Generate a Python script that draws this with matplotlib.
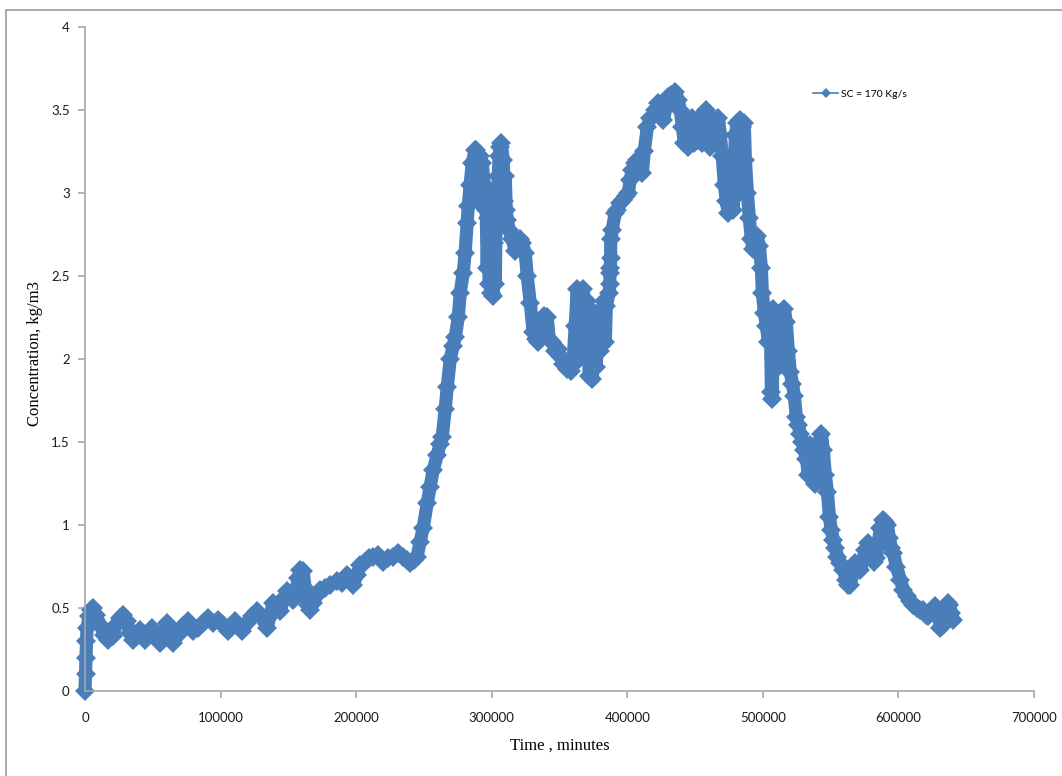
import matplotlib
matplotlib.use("Agg")
import matplotlib.pyplot as plt
from matplotlib.lines import Line2D
from matplotlib.patches import Rectangle

# Time (minutes) and concentration (kg/m3) of the SC = 170 Kg/s series
time_min = [
    0, 400, 700, 1100, 1500, 3000, 4400, 5900, 8100, 11100, 14000, 17000,
    20700, 22900, 25800, 28000, 31000, 33200, 35400, 38400, 40600, 44300,
    46500, 49400, 52400, 55400, 58300, 60500, 62700, 64900, 68600, 72300,
    76000, 79700, 83400, 87100, 90800, 94500, 98200, 101800, 105500, 108500,
    110700, 113700, 115900, 119600, 123200, 126900, 130600, 134300, 136500,
    138700, 141700, 143900, 146900, 149100, 151300, 153500, 155700, 157200,
    158700, 160900, 162400, 164600, 166000, 168300, 171200, 173400, 177100,
    180800, 186000, 189700, 193400, 195600, 197800, 200700, 203000, 206600,
    209600, 212500, 216200, 219900, 223600, 227300, 231000, 234700, 237600,
    239900, 242800, 245000, 247200, 249400, 252400, 254600, 256800, 259800,
    262000, 263500, 265700, 267200, 269400, 271600, 273100, 275300, 276800,
    279000, 280400, 281900, 282700, 284100, 285600, 287800, 288600, 290000,
    291500, 293000, 294500, 295900, 296700, 297400, 298200, 298900, 299600,
    300400, 301100, 301800, 302600, 303300, 304100, 304800, 305500, 306300,
    307000, 308500, 309200, 310000, 310700, 311400, 312900, 315100, 317300,
    319600, 321000, 322500, 324700, 326200, 328400, 330600, 332800, 334300,
    336500, 338700, 341000, 342400, 344600, 346900, 349100, 350600, 352800,
    355700, 358700, 360100, 361600, 363100, 364600, 366000, 367500, 369000,
    370500, 372000, 372700, 374200, 375600, 377100, 378600, 380100, 381500,
    383000, 383800, 384500, 386700, 387100, 387200, 387500, 387700, 387800,
    388900, 391100, 392600, 394800, 397000, 399300, 400700, 402200, 403700,
    405900, 407400, 409600, 411100, 412500, 414800, 417000, 418400, 420700,
    422900, 425100, 426600, 428800, 430300, 432500, 435400, 437600, 439100,
    440600, 442100, 443500, 445000, 446500, 448000, 449400, 450900, 452400,
    453900, 455300, 456800, 458300, 459800, 461300, 462700, 464200, 465700,
    467200, 468600, 470100, 471600, 473100, 474500, 476000, 477500, 478200,
    479700, 481200, 482700, 483400, 484900, 486300, 487100, 488600, 490000,
    491500, 493000, 494500, 495900, 497400, 498900, 499600, 501100, 502600,
    504100, 505500, 506300, 507000, 507700, 508500, 510000, 511400, 512900,
    514400, 515900, 517300, 518800, 520300, 521800, 523200, 524700, 526200,
    527700, 529100, 530600, 532100, 533600, 535100, 535800, 537300, 538700,
    540200, 541700, 543200, 544600, 546100, 547600, 549100, 550500, 552000,
    553500, 555000, 557200, 559400, 561600, 563100, 564600, 566000, 568300,
    569700, 572000, 573400, 575600, 577900, 580100, 582300, 583800, 585200,
    586700, 588900, 590400, 591900, 593400, 594800, 596300, 598500, 601500,
    603700, 606600, 608900, 611100, 614000, 616200, 618400, 620700, 622100,
    624300, 627300, 629500, 631000, 632500, 633900, 636200, 637600, 639100,
    640600,
]

concentration = [
    0.00, 0.10, 0.20, 0.30, 0.38, 0.45, 0.49, 0.50, 0.46, 0.40, 0.34, 0.31,
    0.33, 0.40, 0.44, 0.46, 0.42, 0.35, 0.31, 0.33, 0.37, 0.31,
    0.34, 0.38, 0.34, 0.29, 0.35, 0.41, 0.36, 0.29, 0.34, 0.39,
    0.42, 0.36, 0.38, 0.41, 0.44, 0.41, 0.43, 0.40, 0.36, 0.40,
    0.42, 0.39, 0.36, 0.41, 0.45, 0.48, 0.44, 0.38, 0.45,
    0.53, 0.50, 0.48, 0.56, 0.60, 0.58, 0.55, 0.60, 0.68,
    0.73, 0.72, 0.62, 0.52, 0.49, 0.53, 0.58, 0.61, 0.62,
    0.64, 0.66, 0.65, 0.70, 0.68, 0.64, 0.70, 0.76, 0.78,
    0.80, 0.81, 0.82, 0.78, 0.80, 0.81, 0.83, 0.81, 0.79,
    0.77, 0.79, 0.81, 0.90, 0.98, 1.13, 1.23, 1.33, 1.42,
    1.49, 1.53, 1.70, 1.83, 2.00, 2.08, 2.13, 2.25, 2.40,
    2.52, 2.64, 2.82, 2.92, 3.05, 3.18, 3.26, 3.26, 2.95,
    3.22, 3.18, 3.05, 2.90, 2.55, 2.85, 2.45, 2.70, 2.40,
    2.60, 2.38, 2.70, 2.45, 2.85, 2.95, 3.10, 3.22, 3.28,
    3.30, 3.20, 2.95, 3.10, 2.90, 2.84, 2.78, 2.72, 2.65,
    2.70, 2.72, 2.70, 2.64, 2.50, 2.34, 2.16, 2.12, 2.10,
    2.20, 2.26, 2.25, 2.12, 2.10, 2.05, 2.06, 2.02, 1.97,
    1.94, 1.93, 2.00, 2.20, 2.42, 2.00, 2.38, 2.42, 2.10,
    2.35, 1.90, 2.30, 1.88, 2.25, 1.95, 2.28, 2.05, 2.30,
    2.35, 2.10, 2.32, 2.40, 2.45, 2.52, 2.55, 2.61, 2.72,
    2.78, 2.88, 2.90, 2.94, 2.96, 2.98, 3.00, 3.08, 3.14,
    3.18, 3.20, 3.18, 3.12, 3.25, 3.40, 3.45, 3.46, 3.50,
    3.54, 3.50, 3.44, 3.52, 3.58, 3.59, 3.61, 3.56, 3.50,
    3.40, 3.30, 3.45, 3.28, 3.40, 3.45, 3.30, 3.35, 3.32,
    3.40, 3.30, 3.48, 3.50, 3.38, 3.28, 3.40, 3.32, 3.42,
    3.45, 3.35, 3.22, 3.05, 2.95, 2.88, 2.92, 3.00, 2.90,
    3.35, 3.42, 3.00, 3.44, 3.40, 3.42, 3.20, 3.00, 2.85,
    2.72, 2.66, 2.70, 2.74, 2.68, 2.55, 2.40, 2.28, 2.20,
    2.10, 2.25, 1.80, 1.76, 2.30, 2.00, 2.25, 1.95, 2.28,
    2.25, 2.30, 2.22, 2.05, 1.92, 1.85, 1.78, 1.65, 1.60,
    1.55, 1.50, 1.45, 1.40, 1.30, 1.48, 1.32, 1.42, 1.25,
    1.35, 1.50, 1.55, 1.45, 1.30, 1.20, 1.05, 0.97, 0.91,
    0.86, 0.81, 0.77, 0.73, 0.67, 0.64, 0.64, 0.70, 0.77,
    0.74, 0.73, 0.78, 0.85, 0.89, 0.84, 0.78, 0.80, 0.90,
    0.98, 1.03, 1.02, 1.00, 0.92, 0.86, 0.83, 0.75, 0.67,
    0.61, 0.57, 0.54, 0.52, 0.50, 0.49, 0.49, 0.46, 0.45,
    0.47, 0.51, 0.45, 0.38, 0.39, 0.45, 0.53, 0.52, 0.47,
    0.43,
]

x_ticks = [0, 100000, 200000, 300000, 400000, 500000, 600000, 700000]
y_ticks = [0, 0.5, 1, 1.5, 2, 2.5, 3, 3.5, 4]
y_tick_labels = ["0", "0.5", "1", "1.5", "2", "2.5", "3", "3.5", "4"]
series_label = "SC = 170 Kg/s"

W, H = 1062, 776
fig = plt.figure(figsize=(W / 100, H / 100), dpi=100)
fig.patch.set_facecolor("white")

# chart-area frame (runs off the right and bottom edges)
fig.patches.append(Rectangle((6 / W, -0.05), 1.1, 1 - 10 / H + 0.05,
                             transform=fig.transFigure, fill=False,
                             edgecolor="#9a9a9a", linewidth=1.2))

left, right = 85 / W, 1034 / W
bottom, top = (H - 691) / H, (H - 27) / H
ax = fig.add_axes([left, bottom, right - left, top - bottom])

blue = "#4a7ebb"
ax.plot(time_min, concentration, color=blue, linewidth=9.5,
        marker="D", markersize=10, markeredgewidth=0,
        solid_joinstyle="round", solid_capstyle="round", clip_on=False)

ax.set_xlim(0, 700000)
ax.set_ylim(0, 4)

for s in ("top", "right"):
    ax.spines[s].set_visible(False)
for s in ("left", "bottom"):
    ax.spines[s].set_color("#a6a6a6")
    ax.spines[s].set_linewidth(1.2)

tick_font = dict(family="Lato", size=9.5)
ax.set_xticks(x_ticks)
ax.set_xticklabels([str(v) for v in x_ticks], fontdict=tick_font)
ax.set_yticks(y_ticks)
ax.set_yticklabels(y_tick_labels, fontdict=tick_font)
ax.tick_params(axis="both", direction="out", length=5, width=1.2,
               color="#a6a6a6", labelcolor="#1a1a1a")
ax.tick_params(axis="y", pad=6)
ax.tick_params(axis="x", pad=10)

ax.set_xlabel("Time , minutes", family="Liberation Serif", fontsize=12,
              labelpad=10)
fig.text(35 / W, 1 - 354 / H, "Concentration, kg/m3", rotation=90,
         family="Liberation Serif", fontsize=12, ha="center", va="center")

handle = Line2D([], [], color=blue, linewidth=1.2, marker="D", markersize=5,
                markeredgewidth=0)
ax.legend([handle], [series_label], loc="center left",
          bbox_to_anchor=(808 / W, 1 - 94 / H), bbox_transform=fig.transFigure,
          frameon=False, handlelength=2.4, handletextpad=0.3,
          prop=dict(family="Lato", size=7.5), borderpad=0)

fig.savefig("out.png", dpi=100, facecolor="white")
